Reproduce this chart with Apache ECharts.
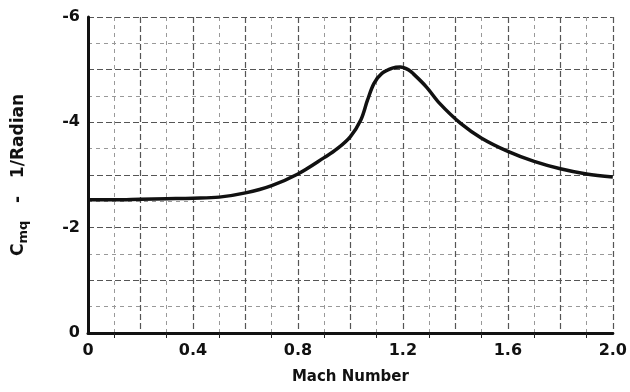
<!DOCTYPE html>
<html>
<head>
<meta charset="utf-8">
<script src="https://cdn.jsdelivr.net/npm/echarts@6/dist/echarts.min.js"></script>
<style>
html,body{margin:0;padding:0;background:#fff;}
#chart{width:630px;height:392px;}
</style>
</head>
<body>
<div id="chart"></div>
<script>
// Mach number samples
const mach = [0, 0.1, 0.2, 0.3, 0.4, 0.5, 0.6, 0.7, 0.8, 0.9, 0.95, 1.0, 1.04, 1.065, 1.09, 1.12, 1.16, 1.19, 1.22, 1.24, 1.29, 1.34, 1.42, 1.5, 1.6, 1.7, 1.8, 1.9, 2.0];
// Cmq (1/radian)
const cmq = [-2.53, -2.53, -2.54, -2.55, -2.56, -2.58, -2.66, -2.80, -3.02, -3.33, -3.50, -3.73, -4.05, -4.42, -4.74, -4.93, -5.03, -5.05, -5.00, -4.92, -4.67, -4.36, -3.98, -3.70, -3.45, -3.26, -3.12, -3.02, -2.96];
// tick labels
const xTickLabels = ['0', '0.4', '0.8', '1.2', '1.6', '2.0'];
const yTickLabels = ['-6', '-4', '-2', '0'];

const chart = echarts.init(document.getElementById('chart'));
const labelFont = {color: '#111', fontFamily: 'DejaVu Sans', fontWeight: 'bold', fontSize: 16};
chart.setOption({
  animation: false,
  backgroundColor: '#fff',
  grid: {left: 88, right: 17, top: 17, bottom: 59},
  xAxis: {
    type: 'value', min: 0, max: 2.0, interval: 0.2,
    name: 'Mach Number', nameLocation: 'middle', nameGap: 37,
    nameTextStyle: {color: '#111', fontFamily: 'DejaVu Sans', fontWeight: 'bold', fontSize: 15},
    axisLine: {lineStyle: {color: '#111', width: 3}},
    axisTick: {show: false},
    minorTick: {show: true, splitNumber: 2, length: 5, lineStyle: {color: '#222'}},
    axisLabel: Object.assign({}, labelFont, {margin: 10, formatter: function (v) {
      const s = v.toFixed(1);
      const t = (s === '0.0') ? '0' : s;
      return xTickLabels.indexOf(t) >= 0 ? t : '';
    }}),
    splitLine: {show: true, lineStyle: {color: '#555', width: 1.2, type: [6, 3]}},
    minorSplitLine: {show: true, lineStyle: {color: '#999', width: 1, type: [4, 4]}}
  },
  yAxis: {
    type: 'value', min: -6, max: 0, interval: 1, inverse: true,
    name: '{c|C}{s|mq}{c|   -   1/Radian}', nameLocation: 'middle', nameGap: 58, nameRotate: 90,
    nameTextStyle: {
      rich: {
        c: {color: '#111', fontFamily: 'DejaVu Sans', fontWeight: 'bold', fontSize: 17},
        s: {color: '#111', fontFamily: 'DejaVu Sans', fontWeight: 'bold', fontSize: 13, verticalAlign: 'bottom', padding: [9, 0, 0, 0]}
      }
    },
    axisLine: {lineStyle: {color: '#111', width: 3}},
    axisTick: {show: false},
    axisLabel: Object.assign({}, labelFont, {margin: 8, formatter: function (v) {
      const t = String(Math.round(v));
      return yTickLabels.indexOf(t) >= 0 ? t : '';
    }}),
    minorTick: {show: false, splitNumber: 2},
    splitLine: {show: true, lineStyle: {color: '#555', width: 1.2, type: [6, 3]}},
    minorSplitLine: {show: true, lineStyle: {color: '#999', width: 1, type: [4, 4]}}
  },
  series: [{
    type: 'line',
    data: mach.map((m, i) => [m, cmq[i]]),
    smooth: 0.35,
    showSymbol: false,
    lineStyle: {color: '#111', width: 3.5}
  }]
});
</script>
</body>
</html>
